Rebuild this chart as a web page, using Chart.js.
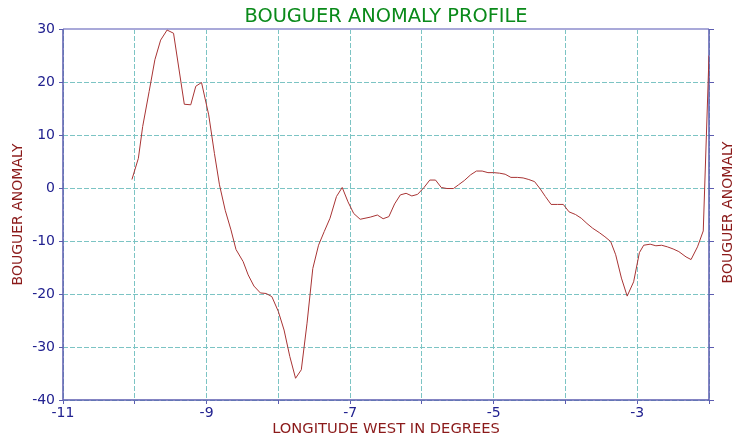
<!DOCTYPE html>
<html>
<head>
<meta charset="utf-8">
<script src="https://cdn.jsdelivr.net/npm/chart.js@4/dist/chart.umd.min.js"></script>
<style>
  html, body { margin: 0; padding: 0; background: #fff; }
  #wrap { width: 744px; height: 441px; }
</style>
</head>
<body>
<div id="wrap"><canvas id="profileChart" width="744" height="441"></canvas></div>
<script>
// Profile samples (longitude west, anomaly)
const longitude = [
  -10.04, -9.95, -9.89, -9.80, -9.72, -9.64, -9.55, -9.46, -9.31, -9.22,
  -9.15, -9.07, -8.97, -8.89, -8.82, -8.74, -8.66, -8.59, -8.49, -8.42,
  -8.34, -8.25, -8.17, -8.09, -8.00, -7.92, -7.84, -7.76, -7.68, -7.60,
  -7.52, -7.44, -7.36, -7.28, -7.19, -7.11, -7.03, -6.95, -6.86, -6.72,
  -6.62, -6.54, -6.46, -6.38, -6.30, -6.22, -6.14, -6.06, -5.97, -5.89,
  -5.81, -5.73, -5.65, -5.56, -5.49, -5.41, -5.32, -5.24, -5.16, -5.08,
  -5.00, -4.92, -4.84, -4.76, -4.67, -4.59, -4.51, -4.43, -4.35, -4.28,
  -4.20, -4.11, -4.03, -3.95, -3.86, -3.78, -3.70, -3.62, -3.53, -3.45,
  -3.37, -3.30, -3.22, -3.14, -3.05, -2.97, -2.91, -2.82, -2.74, -2.66,
  -2.58, -2.50, -2.42, -2.32, -2.25, -2.16, -2.08, -2.00
];
const anomaly = [
  1.6, 5.6, 11.6, 18.2, 24.2, 27.9, 29.8, 29.2, 15.8, 15.7,
  19.2, 19.9, 13.8, 6.5, 0.6, -4.2, -7.9, -11.6, -13.9, -16.4,
  -18.5, -19.8, -19.9, -20.5, -23.3, -26.8, -31.8, -35.9, -34.3, -25.5,
  -15.2, -10.8, -8.2, -5.7, -1.6, 0.1, -2.6, -4.8, -5.9, -5.5,
  -5.1, -5.8, -5.4, -3.0, -1.3, -1.0, -1.5, -1.2, 0.1, 1.5,
  1.5, 0.1, -0.1, -0.1, 0.6, 1.4, 2.5, 3.2, 3.2, 2.9,
  2.9, 2.8, 2.6, 2.0, 2.0, 1.9, 1.6, 1.2, -0.2, -1.6,
  -3.1, -3.1, -3.1, -4.5, -5.0, -5.7, -6.7, -7.6, -8.4, -9.2,
  -10.1, -12.6, -17.0, -20.4, -17.7, -12.2, -10.8, -10.6, -10.9, -10.8,
  -11.1, -11.5, -12.0, -13.0, -13.5, -11.1, -8.1, 25.0
];

// Axis ranges / labels
const xRange = [-11, -2];
const yRange = [-40, 30];
const xTickLabels = [-11, -9, -7, -5, -3];

const FONT = "'DejaVu Sans', Verdana, sans-serif";
const NAVY = '#222290';
const RED = '#8b1a1a';
const GRID = '#7cc4c4';

// Title, right-hand axis title and the plot frame
const decorPlugin = {
  id: 'decor',
  beforeDatasetsDraw(chart) {
    const { ctx, chartArea: a } = chart;
    ctx.save();
    ctx.setLineDash([]);
    ctx.lineWidth = 2;
    ctx.strokeStyle = '#a9a9d9';
    ctx.beginPath();
    ctx.moveTo(a.left, a.top);
    ctx.lineTo(a.right, a.top);
    ctx.stroke();
    ctx.lineWidth = 1.5;
    ctx.strokeStyle = '#5c5cb0';
    ctx.beginPath();
    ctx.moveTo(a.left, a.top);
    ctx.lineTo(a.left, a.bottom);
    ctx.lineTo(a.right, a.bottom);
    ctx.lineTo(a.right, a.top);
    ctx.stroke();
    ctx.restore();
  },
  afterDraw(chart) {
    const { ctx, chartArea: a } = chart;
    ctx.save();
    ctx.fillStyle = '#0a8a1a';
    ctx.font = '19.4px ' + FONT;
    ctx.textAlign = 'center';
    ctx.textBaseline = 'middle';
    ctx.fillText('BOUGUER ANOMALY PROFILE', (a.left + a.right) / 2, 17);

    ctx.translate(728, (a.top + a.bottom) / 2 - 2);
    ctx.rotate(-Math.PI / 2);
    ctx.fillStyle = RED;
    ctx.font = '14px ' + FONT;
    ctx.fillText('BOUGUER ANOMALY', 0, 0);
    ctx.restore();
  }
};

const ctx = document.getElementById('profileChart').getContext('2d');
new Chart(ctx, {
  type: 'line',
  data: {
    datasets: [{
      data: longitude.map((x, i) => ({ x: x, y: anomaly[i] })),
      borderColor: '#a83434',
      borderWidth: 1,
      pointRadius: 0,
      tension: 0,
      fill: false
    }]
  },
  options: {
    responsive: false,
    animation: false,
    layout: { padding: { top: 29, left: 0, right: 0, bottom: 0 } },
    plugins: {
      legend: { display: false },
      tooltip: { enabled: false }
    },
    scales: {
      x: {
        type: 'linear',
        position: 'bottom',
        min: xRange[0],
        max: xRange[1],
        afterFit(scale) { scale.height = 41; },
        ticks: {
          stepSize: 1,
          padding: 1,
          color: NAVY,
          font: { family: FONT, size: 14 },
          maxRotation: 0,
          autoSkip: false,
          callback: v => xTickLabels.includes(Math.round(v)) ? String(Math.round(v)) : ''
        },
        grid: {
          color: GRID,
          lineWidth: 1,
          tickLength: 4,
          tickColor: '#5c5cb0',
          tickBorderDash: []
        },
        border: { display: false, dash: [5, 2] },
        title: {
          display: true,
          text: 'LONGITUDE WEST IN DEGREES',
          color: RED,
          font: { family: FONT, size: 14.7 },
          padding: { top: 0, bottom: 3 }
        }
      },
      y: {
        type: 'linear',
        position: 'left',
        min: yRange[0],
        max: yRange[1],
        afterFit(scale) { scale.width = 63; },
        ticks: {
          stepSize: 10,
          padding: 4,
          color: NAVY,
          font: { family: FONT, size: 14 }
        },
        grid: {
          color: GRID,
          lineWidth: 1,
          tickLength: 4,
          tickColor: '#5c5cb0',
          tickBorderDash: []
        },
        border: { display: false, dash: [5, 2] },
        title: {
          display: true,
          text: 'BOUGUER ANOMALY',
          color: RED,
          font: { family: FONT, size: 14 },
          padding: { top: 10, bottom: 0 }
        }
      },
      yRight: {
        type: 'linear',
        position: 'right',
        min: yRange[0],
        max: yRange[1],
        afterFit(scale) { scale.width = 35; },
        ticks: { stepSize: 10, display: false },
        grid: {
          drawOnChartArea: false,
          tickLength: 5,
          tickColor: '#5c5cb0',
          tickBorderDash: []
        },
        border: { display: false }
      }
    }
  },
  plugins: [decorPlugin]
});
</script>
</body>
</html>
